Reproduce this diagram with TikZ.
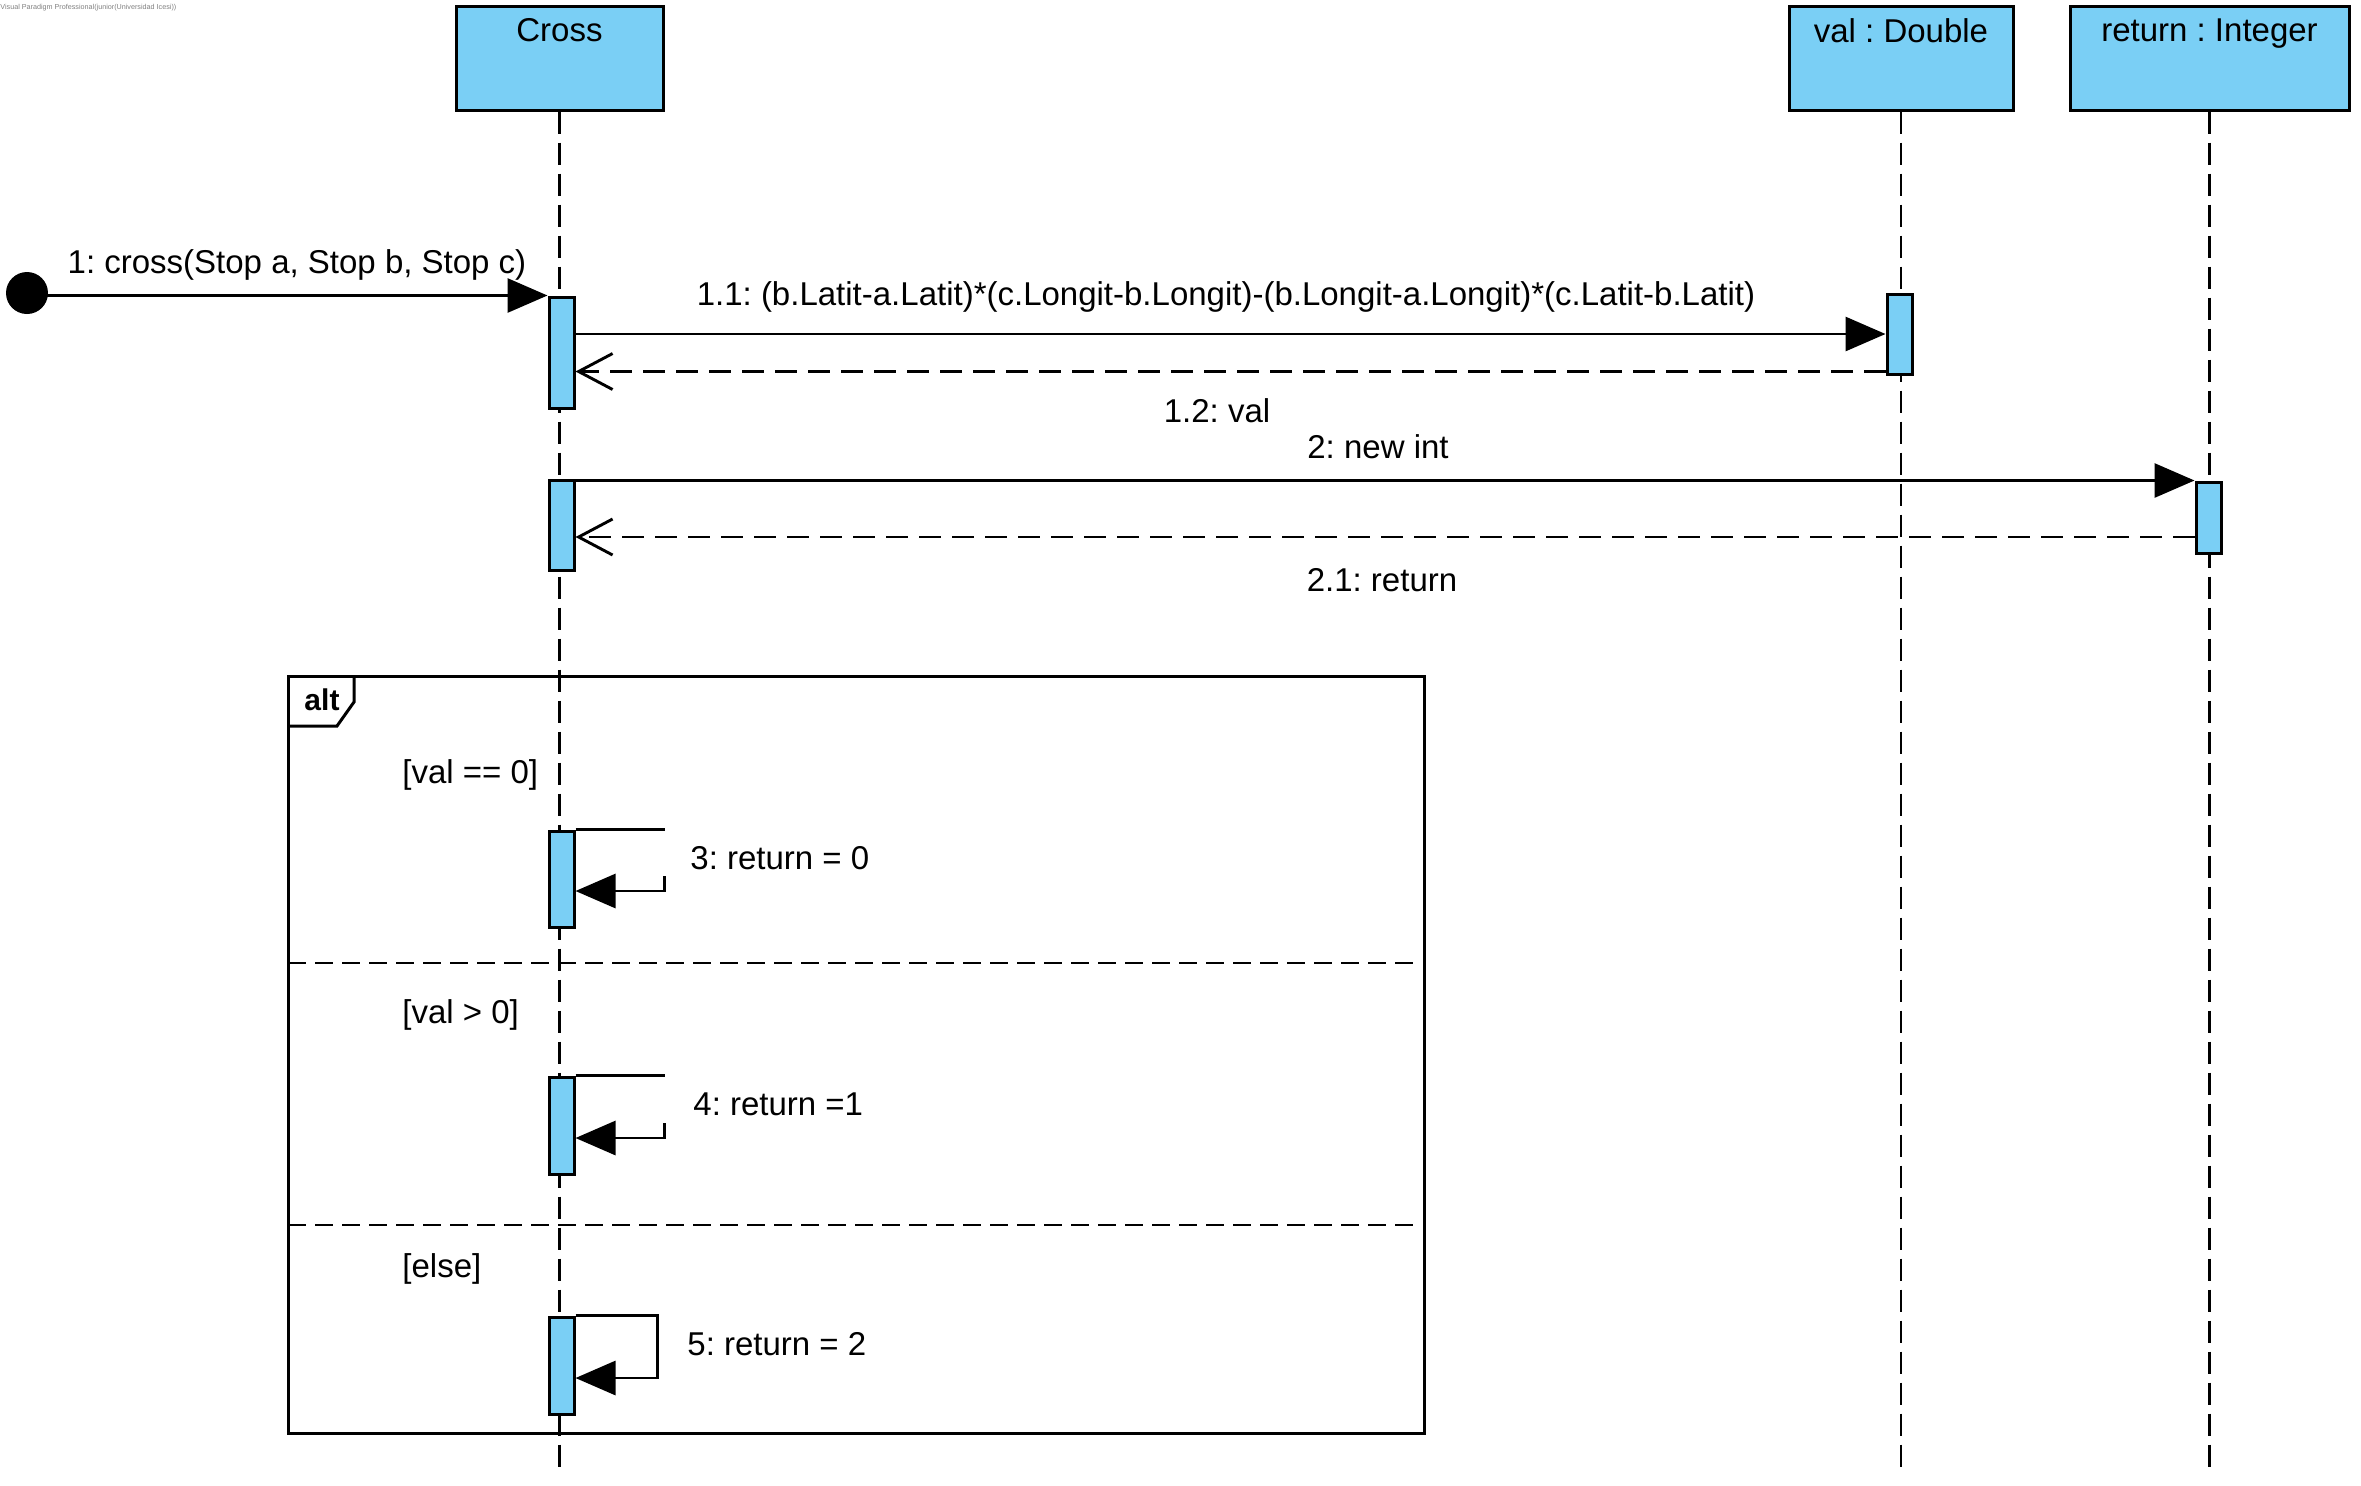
\documentclass[tikz,border=0pt]{standalone}
\usepackage{fontspec}
\setmainfont{Liberation Sans}
\usetikzlibrary{arrows.meta, positioning, calc}
\definecolor{sdblue}{RGB}{122,207,245}
\tikzset{
  sd head/.style={
    rectangle, draw=black, fill=sdblue, line width=1.5pt,
    minimum height=52pt, inner sep=0pt
  },
  sd act/.style={
    rectangle, draw=black, fill=sdblue, line width=1.5pt,
    minimum width=12.5pt, inner sep=0pt
  },
  sd text/.style={
    font=\fontsize{16.5}{19}\selectfont, inner sep=0pt, yshift=-1.5pt
  },
  sd life/.style={
    dash pattern=on 11pt off 4.5pt, line width=1.35pt
  },
  sd line/.style={
    line width=1.45pt
  },
  sd msg/.style={
    sd line, -{Triangle[length=20pt, width=17pt]}
  },
  sd ret/.style={
    sd line, dash pattern=on 11pt off 5.5pt,
    -{Straight Barb[length=17pt, width=18pt, line width=1.45pt]}
  },
  sd frame/.style={
    line width=1.5pt
  },
  sd sep/.style={
    line width=1.4pt, dash pattern=on 9pt off 4.5pt
  }
}

\begin{document}
\frenchspacing
\begin{tikzpicture}[x=0.5pt, y=-0.5pt]
  \useasboundingbox (0,0) rectangle (2361,1485);

  \node (wm) [anchor=west, inner sep=0pt, text=gray, font=\fontsize{3.6}{4}\selectfont]
    at (0,8) {Visual Paradigm Professional(junior(Universidad Icesi))};

  % lifeline heads
  \node (cross) [sd head, minimum width=103.5pt,
    label={[sd text, anchor=north, yshift=-5.5pt]north:Cross}] at (559.5,58) {};
  \node (val) [sd head, minimum width=112pt,
    label={[sd text, anchor=north, yshift=-5.5pt]north:val : Double}] at (1901,58) {};
  \node (integer) [sd head, minimum width=139.5pt,
    label={[sd text, anchor=north, yshift=-5.5pt]north:return : Integer}] at (2209.5,58) {};

  \coordinate (bottom) at (0,1473);
  \draw [sd life] (cross.south) -- (cross.south |- bottom);
  \draw [sd life] (val.south) -- (val.south |- bottom);
  \draw [sd life] (integer.south) -- (integer.south |- bottom);

  % alt fragment
  \draw [sd frame] (288,676) rectangle (1424,1433);
  \draw [sd frame] (354,676) -- (354,702) -- (337,726) -- (288,726);
  \node (alt) [sd text, font=\fontsize{15}{18}\selectfont\bfseries] at (322,697) {alt};
  \draw [sd sep] (288,963) -- (1417,963);
  \draw [sd sep] (288,1225) -- (1417,1225);
  \node (g1) [sd text, anchor=west] at (402,772) {[val == 0]};
  \node (g2) [sd text, anchor=west] at (402,1012) {[val > 0]};
  \node (g3) [sd text, anchor=west] at (402,1266) {[else]};

  % activations
  \node (a1) [sd act, minimum height=55.5pt] at (561.5,352.5) {};
  \node (v1) [sd act, minimum height=40pt] at (1899.5,334) {};
  \node (a2) [sd act, minimum height=45pt] at (561.5,525) {};
  \node (r1) [sd act, minimum height=35.5pt] at (2208.5,517.5) {};
  \node (a3) [sd act, minimum height=48pt] at (561.5,879) {};
  \node (a4) [sd act, minimum height=48.5pt] at (561.5,1125.5) {};
  \node (a5) [sd act, minimum height=48.5pt] at (561.5,1365.5) {};

  % messages
  \node (start) [circle, fill=black, minimum size=21pt, inner sep=0pt] at (27,293) {};
  \draw [sd msg] (start.center |- a1.north) -- (a1.north west);
  \node (m1) [sd text] at (297,262) {1: cross(Stop a, Stop b, Stop c)};

  \draw [sd msg] (a1.east |- v1) -- (v1.west);
  \node (m11) [sd text] at (1226,294)
    {1.1: (b.Latit-a.Latit)*(c.Longit-b.Longit)-(b.Longit-a.Longit)*(c.Latit-b.Latit)};
  \path ([yshift=2pt]v1.south west) coordinate (r12);
  \draw [sd ret] (r12) -- (r12 -| a1.east);
  \node (m12) [sd text] at (1217,408) {1.2: val};

  \draw [sd msg] (r1.north west -| a2.east) -- (r1.north west);
  \node (m2) [sd text] at (1378,444) {2: new int};
  \path ([yshift=-9.75pt]r1.west) coordinate (r21);
  \draw [sd ret] (r21) -- (r21 -| a2.east);
  \node (m21) [sd text] at (1382,577) {2.1: return};

  \draw [sd line] (a3.north east) -- ++(89,0);
  \draw [sd msg] ([xshift=44.5pt, yshift=1.5pt]a3.east) -- ++(0,15) -- ([yshift=-6pt]a3.east);
  \node (m3) [sd text, anchor=west] at (690,855) {3: return = 0};

  \draw [sd line] (a4.north east) -- ++(89,0);
  \draw [sd msg] ([xshift=44.5pt, yshift=1.25pt]a4.east) -- ++(0,15) -- ([yshift=-6.25pt]a4.east);
  \node (m4) [sd text, anchor=west] at (693,1101) {4: return =1};

  \draw [sd msg] (a5.north east) -- ++(82,0) |- ([yshift=-6.25pt]a5.east);
  \node (m5) [sd text, anchor=west] at (687,1341) {5: return = 2};
\end{tikzpicture}
\end{document}
